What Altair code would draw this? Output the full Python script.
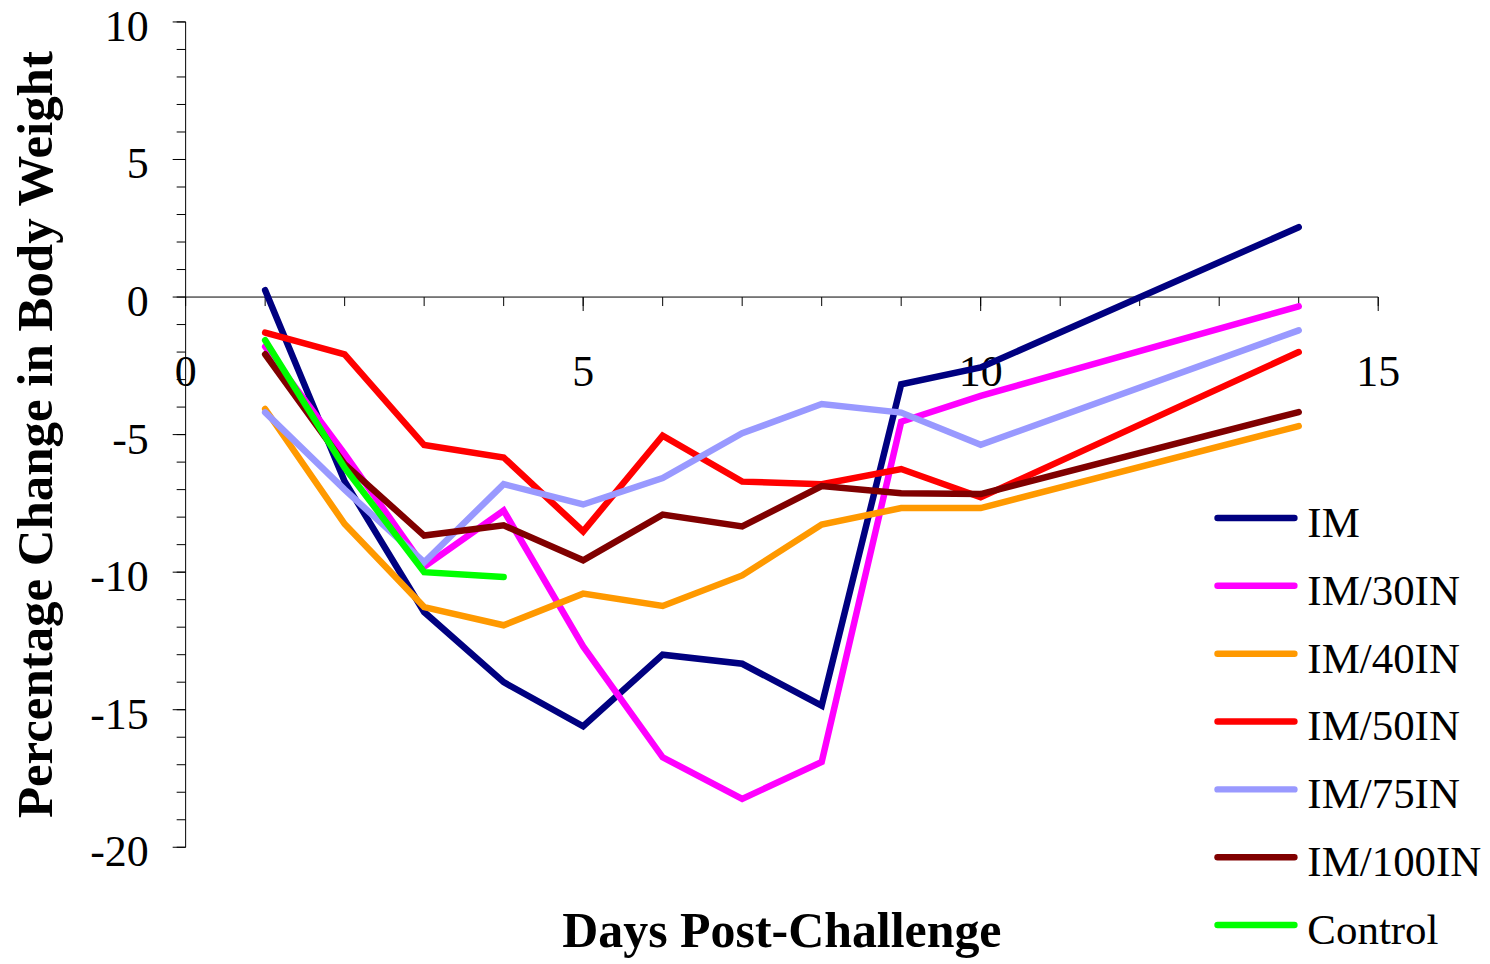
import altair as alt
import pandas as pd

# ---- data ----
days = [1, 2, 3, 4, 5, 6, 7, 8, 9, 10, 14]
control_days = [1, 2, 3, 4]
series_names = ["IM", "IM/30IN", "IM/40IN", "IM/50IN", "IM/75IN", "IM/100IN", "Control"]
series_colors = ["#000080", "#FF00FF", "#FF9900", "#FF0000", "#9999FF", "#800000", "#00FF00"]

im = [0.25, -6.7, -11.45, -14.0, -15.6, -13.0, -13.33, -14.85, -3.17, -2.56, 2.54]
im30 = [-1.8, -5.7, -9.8, -7.76, -12.7, -16.73, -18.24, -16.9, -4.53, -3.59, -0.34]
im40 = [-4.07, -8.25, -11.27, -11.93, -10.78, -11.23, -10.12, -8.27, -7.67, -7.67, -4.69]
im50 = [-1.29, -2.08, -5.38, -5.83, -8.52, -5.04, -6.71, -6.8, -6.25, -7.28, -2.0]
im75 = [-4.19, -7.0, -9.64, -6.8, -7.54, -6.58, -4.95, -3.89, -4.2, -5.37, -1.21]
im100 = [-2.08, -6.07, -8.67, -8.3, -9.57, -7.91, -8.34, -6.87, -7.13, -7.16, -4.18]
control = [-1.57, -6.2, -10.0, -10.18]

y_label_values = [-20, -15, -10, -5, 0, 5, 10]
y_minor_values = list(range(-20, 11))
x_tick_values = list(range(0, 16))
x_label_values = [0, 5, 10, 15]
x_major_values = [5, 10, 15]

y_title = "Percentage Change in Body Weight"
x_title = "Days Post-Challenge"

# ---- build tables ----
rows = []
for name, vals in zip(series_names[:-1], [im, im30, im40, im50, im75, im100]):
    for i, (d, v) in enumerate(zip(days, vals)):
        rows.append({"series": name, "day": d, "value": v, "order": i})
for i, (d, v) in enumerate(zip(control_days, control)):
    rows.append({"series": "Control", "day": d, "value": v, "order": i})
df = pd.DataFrame(rows)

SERIF = "Liberation Serif"
W, H = 1195, 827
x_scale = alt.Scale(domain=[0, 15], nice=False, zero=False)
y_scale = alt.Scale(domain=[-20, 10], nice=False, zero=False)
color_scale = alt.Scale(domain=series_names, range=series_colors)


def X(field):
    return alt.X(field, scale=x_scale, axis=None)


def Y(field):
    return alt.Y(field, scale=y_scale, axis=None)


# ---- axes drawn from the scales ----
yaxis_df = pd.DataFrame({"lo": [-20], "hi": [10]})
y_domain = alt.Chart(yaxis_df).mark_rule(color="black", strokeWidth=1).encode(
    x=alt.value(0), y=Y("lo:Q"), y2="hi:Q")

y_minor = alt.Chart(pd.DataFrame({"t": y_minor_values})).mark_rule(
    color="black", strokeWidth=1).encode(x=alt.value(-9), x2=alt.value(0), y=Y("t:Q"))

y_major = alt.Chart(pd.DataFrame({"t": y_label_values})).mark_rule(
    color="black", strokeWidth=1).encode(x=alt.value(-13), x2=alt.value(0), y=Y("t:Q"))

y_labels = alt.Chart(pd.DataFrame({"t": y_label_values,
                                   "label": [str(v) for v in y_label_values]})).mark_text(
    align="right", baseline="middle", font=SERIF, fontSize=44, color="black", dy=6).encode(
    x=alt.value(-37), y=Y("t:Q"), text="label:N")

xaxis_df = pd.DataFrame({"lo": [0], "hi": [15], "zero": [0]})
x_domain = alt.Chart(xaxis_df).mark_rule(color="black", strokeWidth=1).encode(
    x=X("lo:Q"), x2="hi:Q", y=Y("zero:Q"))

x_minor = alt.Chart(pd.DataFrame({"t": x_tick_values, "zero": 0})).mark_rule(
    color="black", strokeWidth=1, y2Offset=9).encode(
    x=X("t:Q"), y=Y("zero:Q"), y2="zero:Q")

x_major = alt.Chart(pd.DataFrame({"t": x_major_values, "zero": 0})).mark_rule(
    color="black", strokeWidth=1, y2Offset=14).encode(
    x=X("t:Q"), y=Y("zero:Q"), y2="zero:Q")

x_labels = alt.Chart(pd.DataFrame({"t": x_label_values, "zero": 0,
                                   "label": [str(v) for v in x_label_values]})).mark_text(
    align="center", baseline="top", font=SERIF, fontSize=44, color="black", dy=54).encode(
    x=X("t:Q"), y=Y("zero:Q"), text="label:N")

y_title_mark = alt.Chart(pd.DataFrame({"label": [y_title]})).mark_text(
    angle=270, align="center", baseline="alphabetic", font=SERIF, fontSize=51,
    fontWeight="bold", color="black").encode(
    x=alt.value(-134), y=alt.value(H / 2), text="label:N")

# ---- data lines ----
lines = alt.Chart(df).mark_line(strokeWidth=6.5, strokeCap="round").encode(
    x=X("day:Q"),
    y=Y("value:Q"),
    color=alt.Color("series:N", scale=color_scale, legend=None),
    order=alt.Order("order:Q"),
)

# ---- hand-drawn legend (one row per series) ----
LEG_TOP, LEG_STEP = 497, 68
legend_layers = []
for i, (name, col) in enumerate(zip(series_names, series_colors)):
    row_df = pd.DataFrame({"series": [name]})
    ypix = LEG_TOP + i * LEG_STEP
    legend_layers.append(
        alt.Chart(row_df).mark_rule(strokeWidth=6.5, strokeCap="round", color=col).encode(
            x=alt.value(1034), x2=alt.value(1111), y=alt.value(ypix))
    )
    legend_layers.append(
        alt.Chart(row_df).mark_text(align="left", baseline="middle", font=SERIF,
                                    fontSize=43, dy=6, color="black").encode(
            x=alt.value(1124), y=alt.value(ypix), text="series:N")
    )

chart = alt.layer(
    y_domain, y_minor, y_major, y_labels,
    x_domain, x_minor, x_major, x_labels,
    y_title_mark, lines, *legend_layers,
).properties(
    width=W, height=H,
    autosize=alt.AutoSizeParams(type="none"),
    padding={"left": 178, "top": 13, "right": 104, "bottom": 115},
    title=alt.TitleParams(x_title, orient="bottom", anchor="middle",
                          frame="group", font=SERIF, fontSize=50, fontWeight="bold",
                          color="black", baseline="alphabetic", offset=-6),
).configure_view(stroke=None)

chart.save("out.html", embed_options={"renderer": "svg", "actions": False})
